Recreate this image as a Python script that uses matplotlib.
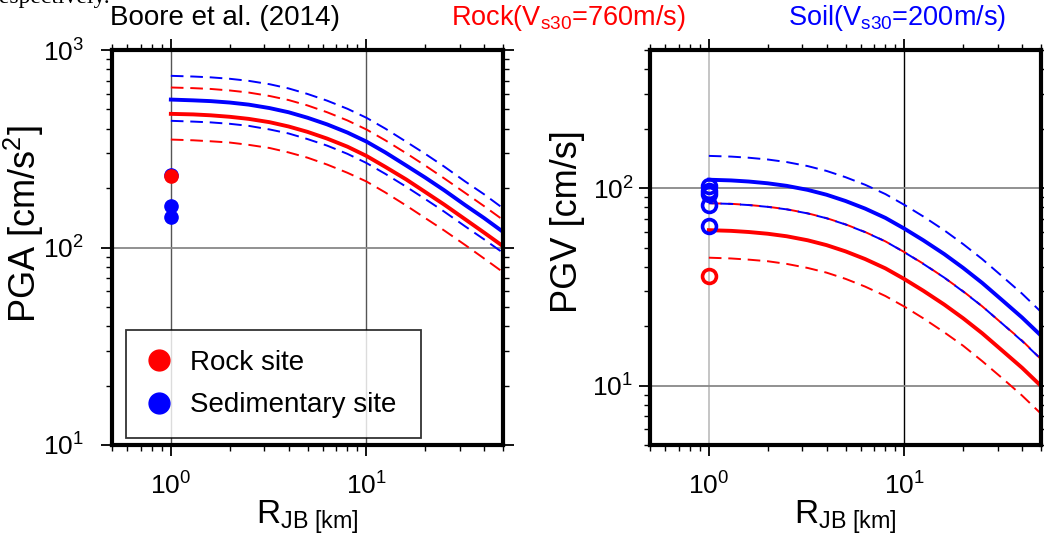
import matplotlib
matplotlib.use('Agg')
import matplotlib.pyplot as plt
from matplotlib.lines import Line2D
from matplotlib.ticker import LogLocator, NullFormatter

plt.rcParams['font.family'] = ['Liberation Sans', 'DejaVu Sans']
plt.rcParams['mathtext.fontset'] = 'custom'
plt.rcParams['mathtext.rm'] = 'Liberation Sans'
plt.rcParams['mathtext.it'] = 'Liberation Sans:italic'
plt.rcParams['mathtext.default'] = 'regular'

# distances of the curves (km)
rjb = [1, 1.3, 1.6, 2, 2.5, 3.2, 4, 5, 6.3, 8, 10, 12.5, 16, 20, 25, 32, 40, 50]

# PGA (cm/s^2), Boore et al. (2014), median and +/- sigma
pga_rock = [475, 472, 467, 459, 448, 431, 410, 385, 356, 324, 291, 256, 221, 191, 165, 139, 119, 101.5]
pga_rock_hi = [646, 641, 635, 624, 609, 585, 558, 524, 484, 440, 396, 349, 300, 260, 224, 189, 162, 138]
pga_rock_lo = [352, 349, 345, 340, 331, 319, 303, 285, 263, 239, 216, 190, 163, 141, 122, 103, 88, 75]
pga_soil = [561, 556, 551, 542, 529, 508, 484, 454, 420, 382, 344, 303, 260, 226, 195, 164, 141, 120]
pga_soil_hi = [740, 734, 727, 715, 698, 671, 639, 599, 554, 504, 454, 400, 343, 298, 257, 216, 186, 158]
pga_soil_lo = [438, 434, 430, 423, 413, 396, 378, 354, 328, 298, 268, 236, 203, 176, 152, 128, 110, 94]

# PGV (cm/s)
pgv_rock = [61.2, 60.7, 59.9, 58.7, 57.0, 54.4, 51.4, 47.8, 43.7, 39.2, 34.6, 30.2, 25.7, 21.9, 18.4, 14.9, 12.3, 9.95]
pgv_rock_hi = [83.8, 83.2, 82.1, 80.4, 78.1, 74.5, 70.4, 65.5, 59.9, 53.7, 47.4, 41.4, 35.2, 30.0, 25.2, 20.4, 16.9, 13.6]
pgv_rock_lo = [44.4, 44.0, 43.4, 42.6, 41.3, 39.4, 37.3, 34.7, 31.7, 28.4, 25.1, 21.9, 18.6, 15.9, 13.3, 10.8, 8.9, 7.2]
pgv_soil = [110.2, 109.3, 107.9, 105.7, 102.6, 97.9, 92.5, 86.0, 78.7, 70.6, 62.3, 54.4, 46.3, 39.4, 33.1, 26.8, 22.1, 17.9]
pgv_soil_hi = [145.5, 144.3, 142.4, 139.5, 135.4, 129.2, 122.1, 113.5, 103.9, 93.2, 82.2, 71.8, 61.1, 52.0, 43.7, 35.4, 29.2, 23.6]
pgv_soil_lo = [83.8, 83.1, 82.0, 80.3, 78.0, 74.4, 70.3, 65.4, 59.8, 53.7, 47.3, 41.3, 35.2, 29.9, 25.2, 20.4, 16.8, 13.6]

# observations at R = 1 km
obs_x = 1.0
pga_obs_rock = [229]
pga_obs_sed = [234, 163, 143]
pgv_obs_rock = [35.7]
pgv_obs_sed = [102, 97, 93, 82, 64]

RED = '#ff0000'
BLUE = '#0000ff'

fig = plt.figure(figsize=(10.44, 5.35), dpi=100)
ax1 = fig.add_axes([112/1044, 90/535, 391/1044, 395/535])
ax2 = fig.add_axes([650/1044, 90/535, 391/1044, 395/535])


def style(ax, ylim, ypad):
    ax.set_xscale('log')
    ax.set_yscale('log')
    ax.set_xlim(0.5, 50)
    ax.set_ylim(*ylim)
    for s in ax.spines.values():
        s.set_linewidth(3)
        s.set_zorder(10)
    ax.xaxis.set_major_locator(LogLocator(base=10, numticks=10))
    ax.xaxis.set_minor_locator(LogLocator(base=10, subs=range(2, 10), numticks=10))
    ax.yaxis.set_major_locator(LogLocator(base=10, numticks=10))
    ax.yaxis.set_minor_locator(LogLocator(base=10, subs=range(2, 10), numticks=10))
    ax.xaxis.set_minor_formatter(NullFormatter())
    ax.yaxis.set_minor_formatter(NullFormatter())
    ax.tick_params(which='both', direction='out', top=True, right=True,
                   labelsize=19)
    ax.tick_params(axis='x', which='both', pad=12)
    ax.tick_params(axis='y', which='both', pad=ypad)
    ax.tick_params(which='major', length=8, width=1.3)
    ax.tick_params(which='minor', length=4, width=1.0)


dash = (0, (6.5, 3.5))
dash_b = (4, (6.5, 3.5))

# ---- left: PGA
style(ax1, (10, 1000), 12)
ax1.axvline(1, color='#555555', lw=1, zorder=1)
ax1.axvline(10, color='#555555', lw=1, zorder=1)
ax1.axhline(100, color='#888888', lw=1.3, zorder=1)
ax1.plot(rjb, pga_rock_hi, color=RED, lw=1.4, ls=dash)
ax1.plot(rjb, pga_rock_lo, color=RED, lw=1.4, ls=dash)
ax1.plot(rjb, pga_soil_hi, color=BLUE, lw=1.4, ls=dash)
ax1.plot(rjb, pga_soil_lo, color=BLUE, lw=1.4, ls=dash)
ax1.plot(rjb, pga_rock, color=RED, lw=2.8)
ax1.plot(rjb, pga_soil, color=BLUE, lw=2.8)
ax1.plot([obs_x]*len(pga_obs_sed), pga_obs_sed, 'o', color=BLUE, ms=9.5, zorder=5,
         clip_on=False)
ax1.plot([obs_x]*len(pga_obs_rock), pga_obs_rock, 'o', color=RED, ms=9.5, zorder=6,
         clip_on=False)
ax1.set_ylabel('PGA [cm/s$^2$]', fontsize=26)
ax1.yaxis.set_label_coords(-0.17, 0.56)
ax1.set_xlabel(r'R$_{\rm JB\ [km]}$', fontsize=24)
ax1.xaxis.set_label_coords(0.5, -0.135)

handles = [Line2D([], [], ls='none', marker='o', color=RED, ms=15),
           Line2D([], [], ls='none', marker='o', color=BLUE, ms=15)]
leg = ax1.legend(handles, ['Rock site', 'Sedimentary site'], loc='lower left',
                 bbox_to_anchor=(0.036, 0.018, 0.754, 0.266), mode='expand',
                 borderaxespad=0, fontsize=20, frameon=True, fancybox=False,
                 handlelength=1.0, handletextpad=0.6, labelspacing=0.6,
                 borderpad=0.7)
leg.get_frame().set_edgecolor('black')
leg.get_frame().set_linewidth(1.3)
leg.set_zorder(8)

# ---- right: PGV
style(ax2, (5, 500), 4)
ax2.axvline(1, color='#bbbbbb', lw=1.2, zorder=1)
ax2.axvline(10, color='black', lw=1, zorder=1)
ax2.axhline(10, color='#888888', lw=1.3, zorder=1)
ax2.axhline(100, color='#888888', lw=1.3, zorder=1)
ax2.plot(rjb, pgv_rock_hi, color=RED, lw=1.4, ls=dash)
ax2.plot(rjb, pgv_rock_lo, color=RED, lw=1.4, ls=dash)
ax2.plot(rjb, pgv_soil_hi, color=BLUE, lw=1.4, ls=dash)
ax2.plot(rjb, pgv_soil_lo, color=BLUE, lw=1.4, ls=dash_b)
ax2.plot(rjb, pgv_rock, color=RED, lw=2.8)
ax2.plot(rjb, pgv_soil, color=BLUE, lw=2.8)
ax2.plot([obs_x]*len(pgv_obs_sed), pgv_obs_sed, 'o', mfc='none', mec=BLUE,
         mew=2.6, ms=10, zorder=5, clip_on=False)
ax2.plot([obs_x]*len(pgv_obs_rock), pgv_obs_rock, 'o', mfc='none', mec=RED,
         mew=2.6, ms=10, zorder=6, clip_on=False)
ax2.set_ylabel('PGV [cm/s]', fontsize=26)
ax2.yaxis.set_label_coords(-0.165, 0.565)
ax2.set_xlabel(r'R$_{\rm JB\ [km]}$', fontsize=24)
ax2.xaxis.set_label_coords(0.5, -0.135)

# titles
fig.text(225/1044, 1 - 18/535, 'Boore et al. (2014)', fontsize=20,
         ha='center', va='center')
fig.text(568/1044, 1 - 18/535, 'Rock(V$_{s30}$=760m/s)', fontsize=19.5,
         ha='center', va='center', color=RED)
fig.text(897/1044, 1 - 18/535, 'Soil(V$_{s30}$=200m/s)', fontsize=19.5,
         ha='center', va='center', color=BLUE)
# cut-off line of the surrounding text
fig.text(-8/1044, 1 - 3/535, 'respectively.', fontsize=17,
         family='Liberation Serif', ha='left', va='baseline')

fig.savefig('out.png', dpi=100)
